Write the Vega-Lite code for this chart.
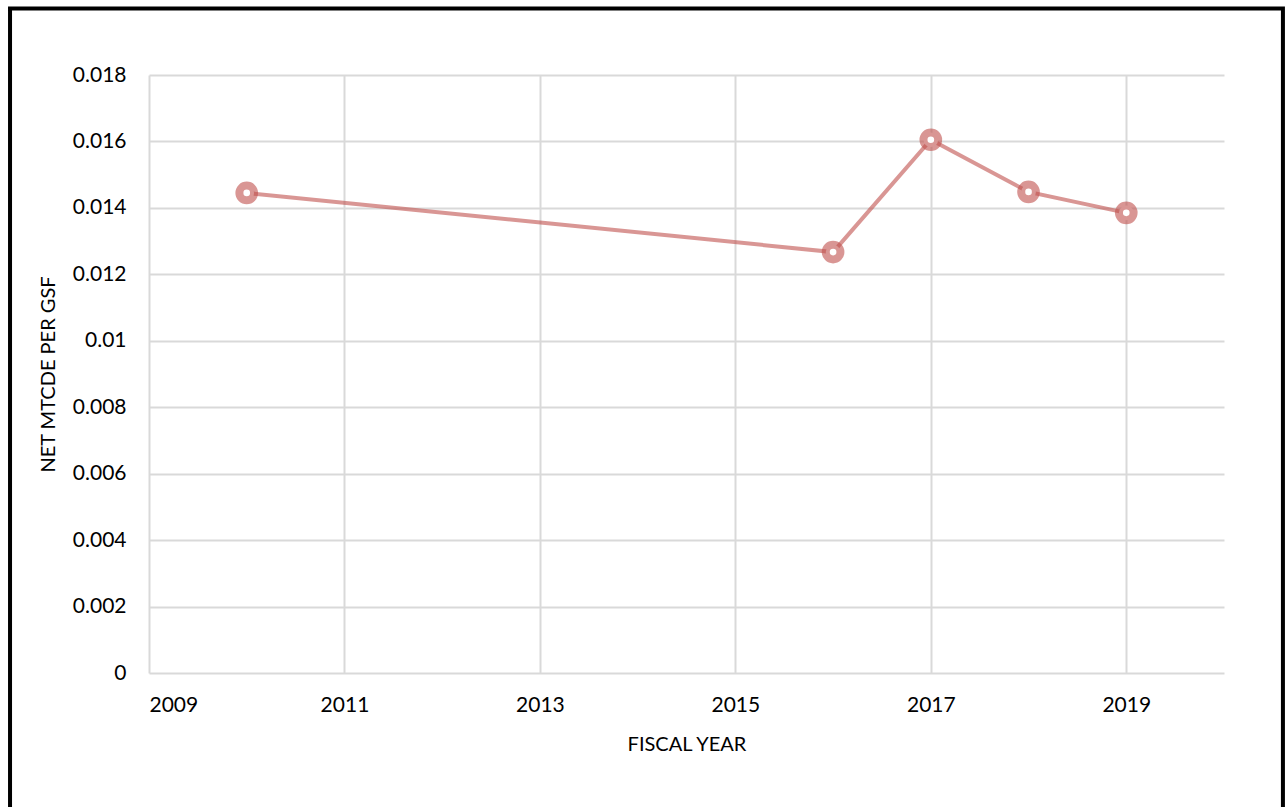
{
  "$schema": "https://vega.github.io/schema/vega-lite/v6.json",
  "width": 1075,
  "height": 598,
  "autosize": "none",
  "padding": {"left": 149, "top": 75, "right": 63, "bottom": 134},
  "background": "white",
  "config": {
    "view": {"stroke": null},
    "font": "Lato",
    "axis": {
      "labelFont": "Lato",
      "titleFont": "Lato",
      "labelColor": "#000000",
      "titleColor": "#000000",
      "titleFontWeight": "normal",
      "gridColor": "#d9d9d9",
      "gridWidth": 2,
      "grid": true,
      "domain": false,
      "ticks": false
    }
  },
  "layer": [
    {
      "data": {"values": [
        {"year": 2010, "mtcde": 0.01445},
        {"year": 2016, "mtcde": 0.01267},
        {"year": 2017, "mtcde": 0.01605},
        {"year": 2018, "mtcde": 0.01448},
        {"year": 2019, "mtcde": 0.01385}
      ]},
      "layer": [
        {
          "mark": {"type": "line", "stroke": "#c0504d", "strokeOpacity": 0.6, "strokeWidth": 4},
          "encoding": {}
        },
        {
          "mark": {"type": "point", "shape": "circle", "filled": false, "fill": "white", "fillOpacity": 1, "stroke": "#c0504d", "strokeOpacity": 0.6, "strokeWidth": 8, "size": 215, "opacity": 1}
        }
      ],
      "encoding": {
        "x": {
          "field": "year", "type": "quantitative",
          "scale": {"domain": [2009, 2020], "nice": false, "zero": false},
          "axis": {
            "title": "FISCAL YEAR", "values": [2009, 2011, 2013, 2015, 2017, 2019],
            "grid": true, "format": "d", "labelFontSize": 21, "labelPadding": 21,
            "titleFontSize": 20, "titlePadding": 19
          }
        },
        "y": {
          "field": "mtcde", "type": "quantitative",
          "scale": {"domain": [0, 0.018], "nice": false},
          "axis": {
            "title": "NET MTCDE PER GSF",
            "values": [0, 0.002, 0.004, 0.006, 0.008, 0.01, 0.012, 0.014, 0.016, 0.018],
            "grid": true, "format": "~g", "labelFontSize": 21, "labelPadding": 23,
            "titleFontSize": 20, "titlePadding": 14
          }
        }
      }
    },
    {
      "data": {"values": [{"frame": "border"}]},
      "mark": {"type": "rect", "fill": null, "stroke": "#000000", "strokeWidth": 4, "clip": false},
      "encoding": {
        "x": {"datum": 2007.578, "type": "quantitative"},
        "x2": {"datum": 2020.603},
        "y": {"datum": 0.02, "type": "quantitative"},
        "y2": {"datum": -0.0042}
      }
    }
  ]
}
